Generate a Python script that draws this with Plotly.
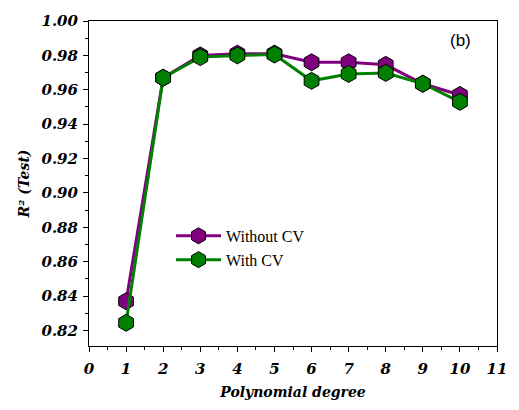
import plotly.graph_objects as go

degrees = [1, 2, 3, 4, 5, 6, 7, 8, 9, 10]
without_cv = [0.837, 0.967, 0.980, 0.981, 0.981, 0.976, 0.976, 0.9745, 0.9635, 0.957]
with_cv = [0.8245, 0.967, 0.979, 0.980, 0.9805, 0.9652, 0.9692, 0.9698, 0.9635, 0.953]

SERIF = "Liberation Serif"
BI = "DejaVu Serif"

fig = go.Figure()
fig.add_trace(go.Scatter(x=degrees, y=without_cv, mode="lines+markers", name="Without CV",
                         line=dict(color="#800080", width=3),
                         marker=dict(symbol="hexagon", size=17, color="#800080",
                                     line=dict(color="black", width=1))))
fig.add_trace(go.Scatter(x=degrees, y=with_cv, mode="lines+markers", name="With CV",
                         line=dict(color="#008000", width=3),
                         marker=dict(symbol="hexagon", size=17, color="#008000",
                                     line=dict(color="black", width=1))))

tickf = dict(family=BI, size=15, color="black", weight="bold", style="italic")
titlef = dict(family=BI, size=14, color="black", weight="bold", style="italic")
fig.update_layout(
    width=519, height=410,
    margin=dict(l=89, r=12, t=16, b=57),
    plot_bgcolor="white", paper_bgcolor="white",
    showlegend=True,
    legend=dict(x=0.201, y=0.391, xanchor="left", yanchor="top", itemwidth=45,
                font=dict(family=SERIF, size=16, color="black"),
                bgcolor="rgba(0,0,0,0)", tracegroupgap=0),
)
fig.update_xaxes(range=[0, 11], tickmode="linear", tick0=0, dtick=1,
                 ticks="outside", ticklen=5, tickwidth=1, tickcolor="black",
                 minor=dict(dtick=0.5, ticks="outside", ticklen=3, tickcolor="black"),
                 showline=True, linecolor="black", linewidth=1, mirror=True,
                 showgrid=False, zeroline=False, ticklabelstandoff=4,
                 tickfont=tickf,
                 title=dict(text="Polynomial degree", standoff=10, font=titlef))
fig.update_yaxes(range=[0.811, 1.0], tickmode="linear", tick0=0.82, dtick=0.02, tickformat=".2f",
                 ticks="outside", ticklen=5, tickwidth=1, tickcolor="black",
                 minor=dict(dtick=0.01, ticks="outside", ticklen=3, tickcolor="black"),
                 showline=True, linecolor="black", linewidth=1, mirror=True,
                 showgrid=False, zeroline=False, ticklabelstandoff=2,
                 tickfont=tickf,
                 title=dict(text="R² (Test)", standoff=8, font=titlef))
fig.add_annotation(x=0.911, y=0.94, xref="paper", yref="paper", text="(b)", showarrow=False,
                   xanchor="center", yanchor="middle",
                   font=dict(family="Liberation Sans, Arial, sans-serif", size=17, color="black"))
fig.write_html("out.html")
